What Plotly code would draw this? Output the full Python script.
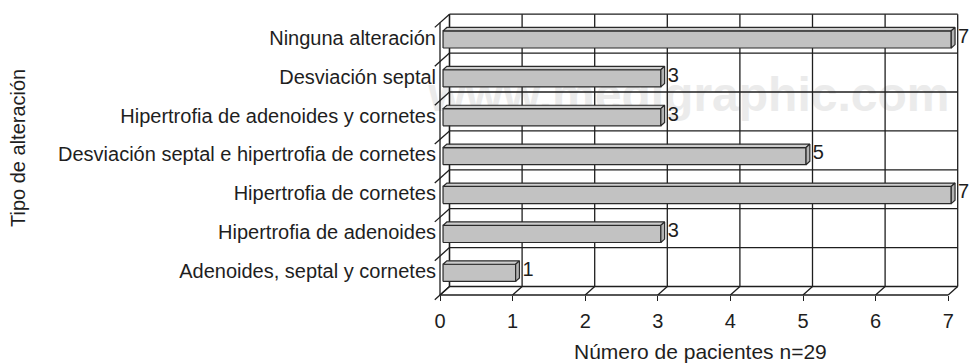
import plotly.graph_objects as go

# ---- data -------------------------------------------------------------
categories = [
    "Adenoides, septal y cornetes",
    "Hipertrofia de adenoides",
    "Hipertrofia de cornetes",
    "Desviación septal e hipertrofia de cornetes",
    "Hipertrofia de adenoides y cornetes",
    "Desviación septal",
    "Ninguna alteración",
]
pacientes = [1, 3, 7, 5, 3, 3, 7]
x_ticks = [0, 1, 2, 3, 4, 5, 6, 7]
x_title = "Número de pacientes n=29"
y_title = "Tipo de alteración"
watermark = "www.medigraphic.com"

# ---- geometry (pixels) ---------------------------------------------------
W, H = 969, 363
X0_PX, UNIT_PX = 440.0, 72.6      # front plane: value 0 and pixels per unit
Y0_PX, CAT_PX = 295.0, 38.9       # front plane: bottom edge and pixels per category
DEPTH_PX = (9.5, 8.5)             # 3-D depth offset (right, up)
BAR_T0, BAR_T1 = 0.32, 0.72       # bar slab position inside the depth
BAR_HALF = 0.22                   # half bar height, in category units
LABEL_GAP_PX = 3.0                # gap between bar end and its value label

FONT = "Liberation Sans, Arial, sans-serif"
INK = "#1e1e1e"

xr = [(0 - X0_PX) / UNIT_PX, (W - X0_PX) / UNIT_PX]
yr = [-0.5 - (H - Y0_PX) / CAT_PX, -0.5 + Y0_PX / CAT_PX]
ddx = DEPTH_PX[0] / UNIT_PX
ddy = DEPTH_PX[1] / CAT_PX
n = len(categories)
xmax = max(x_ticks)


def px_to_data(px, py):
    return (px - X0_PX) / UNIT_PX, -0.5 + (Y0_PX - py) / CAT_PX


def segments(segs):
    xs, ys = [], []
    for (a, b), (c, d) in segs:
        xs += [a, c, None]
        ys += [b, d, None]
    return xs, ys


fig = go.Figure()

# watermark behind everything
wx, wy = px_to_data(689, 99)
fig.add_trace(go.Scatter(
    x=[wx], y=[wy], mode="text", text=[watermark], cliponaxis=False,
    textfont=dict(family=FONT, size=48, color="#ebebeb", weight="bold"),
    hoverinfo="skip", showlegend=False))

# back wall + gridlines
back = []
for t in x_ticks:
    back.append(((t + ddx, -0.5 + ddy), (t + ddx, n - 0.5 + ddy)))
back.append(((ddx, -0.5 + ddy), (ddx, n - 0.5 + ddy)))
for k in range(n + 1):
    back.append(((ddx, k - 0.5 + ddy), (xmax + ddx, k - 0.5 + ddy)))
# floor
back.append(((0, -0.5), (xmax, -0.5)))
for t in x_ticks:
    back.append(((t, -0.5), (t + ddx, -0.5 + ddy)))
# left wall with its diagonal tick marks
back.append(((0, -0.5), (0, n - 0.5)))
for k in range(n + 1):
    back.append(((-0.55 * ddx, k - 0.5 - 0.55 * ddy), (ddx, k - 0.5 + ddy)))
bx, by = segments(back)
fig.add_trace(go.Scatter(x=bx, y=by, mode="lines", cliponaxis=False,
                         line=dict(color=INK, width=1.3),
                         hoverinfo="skip", showlegend=False))

# bars as 3-D slabs: front face, top face, right side face
fx, fy, tx, ty, sx, sy = [], [], [], [], [], []
lx, ly = [], []
for i, v in enumerate(pacientes):
    x0f, x0b = BAR_T0 * ddx, BAR_T1 * ddx
    yc = i + BAR_T0 * ddy
    lift = (BAR_T1 - BAR_T0) * ddy
    lo, hi = yc - BAR_HALF, yc + BAR_HALF
    fx += [x0f, v + x0f, v + x0f, x0f, x0f, None]
    fy += [lo, lo, hi, hi, lo, None]
    tx += [x0f, x0b, v + x0b, v + x0f, x0f, None]
    ty += [hi, hi + lift, hi + lift, hi, hi, None]
    sx += [v + x0f, v + x0b, v + x0b, v + x0f, v + x0f, None]
    sy += [lo, lo + lift, hi + lift, hi, lo, None]
    lx.append(v + x0b + LABEL_GAP_PX / UNIT_PX)
    ly.append(yc + lift / 2)

for xs, ys, col in ((fx, fy, "#c2c2c2"), (tx, ty, "#cdcdcd"), (sx, sy, "#b3b3b3")):
    fig.add_trace(go.Scatter(x=xs, y=ys, mode="lines", fill="toself",
                             fillcolor=col, line=dict(color="#2a2a2a", width=1.2),
                             hoverinfo="skip", showlegend=False))

# value labels
fig.add_trace(go.Scatter(
    x=lx, y=ly, mode="text", text=[str(v) for v in pacientes],
    textposition="middle right", cliponaxis=False,
    textfont=dict(family=FONT, size=20, color=INK),
    hoverinfo="skip", showlegend=False))

label_shift = (BAR_T0 + BAR_T1) / 2 * ddy

fig.update_layout(
    width=W, height=H, autosize=False,
    margin=dict(l=0, r=0, t=0, b=0, pad=0),
    paper_bgcolor="white", plot_bgcolor="white",
    font=dict(family=FONT, size=20, color=INK),
    showlegend=False,
    xaxis=dict(range=xr, tickvals=x_ticks, ticktext=[str(t) for t in x_ticks],
               ticks="outside", ticklen=5, tickwidth=1.3, tickcolor=INK,
               ticklabelstandoff=3,
               tickfont=dict(size=20, color=INK),
               showgrid=False, zeroline=False, showline=False,
               anchor="free", position=(H - Y0_PX) / H, fixedrange=True),
    yaxis=dict(range=yr, tickvals=[i + label_shift for i in range(n)],
               ticktext=categories, ticks="", ticklabelstandoff=4,
               tickfont=dict(size=20, color=INK),
               showgrid=False, zeroline=False, showline=False,
               anchor="free", position=X0_PX / W, fixedrange=True),
    annotations=[
        dict(text=x_title, x=700 / W, y=1 - 351 / H, xref="paper", yref="paper",
             showarrow=False, font=dict(size=21, color=INK),
             xanchor="center", yanchor="middle"),
        dict(text=y_title, x=18 / W, y=1 - 148 / H, xref="paper", yref="paper",
             showarrow=False, textangle=-90, font=dict(size=20, color=INK),
             xanchor="center", yanchor="middle"),
    ],
)

fig.write_html("out.html")
